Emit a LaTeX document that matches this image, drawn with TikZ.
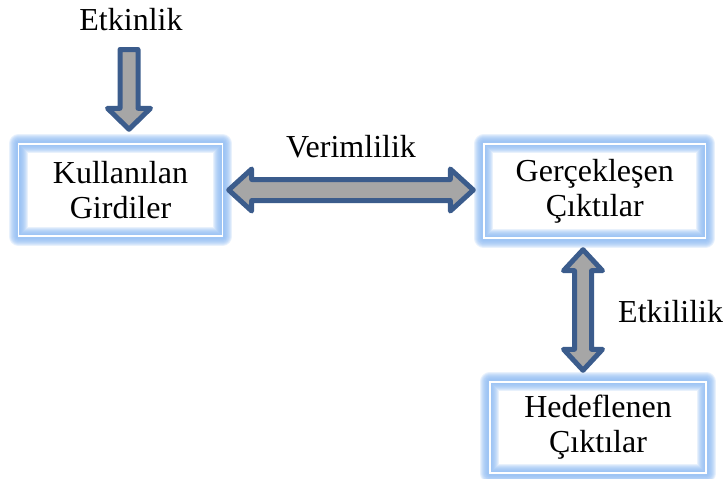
\documentclass[tikz,border=0pt]{standalone}
\usepackage{fontspec}
\setmainfont{Liberation Serif}
\usetikzlibrary{calc}
\definecolor{glowblue}{RGB}{140,185,242}
\definecolor{arrowedge}{RGB}{59,92,140}
\definecolor{arrowfill}{RGB}{166,166,166}
\tikzset{
  txt/.style={font=\fontsize{32}{35}\selectfont, inner sep=0pt, align=center},
  framebox/.style={txt, minimum width=#1},
  blockarrow/.style={draw=arrowedge, fill=arrowfill, line width=5pt, line join=round},
  glow/.style={draw=glowblue, line width=#1, draw opacity=0.2, line join=round}
}
\begin{document}
\begin{tikzpicture}[x=1pt, y=-1pt]
\useasboundingbox (0,0) rectangle (723,479);

% boxes
\node[framebox=204pt, minimum height=92pt] (k) at (120.5,190) {Kullanılan\\Girdiler};
\node[framebox=221.5pt, minimum height=94pt] (g) at (594.75,191) {Gerçekleşen\\Çıktılar};
\node[framebox=216pt, minimum height=91pt] (h) at (598,427.5) {Hedeflenen\\Çıktılar};

% soft glowing frames with a thin white line
\foreach \n in {k,g,h}{
  \foreach \w in {19,17,15,13,11,9,7,5}{
    \draw[glow=\w pt] (\n.north west) rectangle (\n.south east);
  }
  \draw[white, line width=1.5pt] (\n.north west) rectangle (\n.south east);
}

% labels
\node[txt, anchor=base] (e) at (131,30) {Etkinlik};
\node[txt, anchor=base] (v) at (351,157) {Verimlilik};
\node[txt, anchor=base west] (t) at (618,322) {Etkililik};
\coordinate (etop) at (129,49.5);

% Etkinlik -> Kullanılan Girdiler
\path[blockarrow] let \p1=(etop), \p2=($(k.north)+(8.5,-14.5)$) in
  (\x2-9pt,\y1) -- (\x2+9pt,\y1) -- (\x2+9pt,\y2+21pt) -- (\x2+21.5pt,\y2+21pt)
  -- (\x2,\y2) -- (\x2-21.5pt,\y2+21pt) -- (\x2-9pt,\y2+21pt) -- cycle;

% Kullanılan Girdiler <-> Gerçekleşen Çıktılar
\path[blockarrow] let \p1=($(k.east)+(6,0)$), \p2=($(g.west)+(-10.5,0)$) in
  (\x1,\y1) -- (\x1+23pt,\y1+21pt) -- (\x1+23pt,\y1+10.5pt) -- (\x2-23pt,\y1+10.5pt)
  -- (\x2-23pt,\y1+21pt) -- (\x2,\y1) -- (\x2-23pt,\y1-21pt) -- (\x2-23pt,\y1-10.5pt)
  -- (\x1+23pt,\y1-10.5pt) -- (\x1+23pt,\y1-21pt) -- cycle;

% Gerçekleşen Çıktılar <-> Hedeflenen Çıktılar
\path[blockarrow] let \p1=($(g.south)+(-11.75,11.5)$), \p2=($(h.north)+(-15,-11.5)$) in
  (\x1,\y1) -- (\x1+19.5pt,\y1-21pt) -- (\x1+8.5pt,\y1-21pt) -- (\x1+8.5pt,\y2+21pt)
  -- (\x1+19.5pt,\y2+21pt) -- (\x1,\y2) -- (\x1-19.5pt,\y2+21pt) -- (\x1-8.5pt,\y2+21pt)
  -- (\x1-8.5pt,\y1-21pt) -- (\x1-19.5pt,\y1-21pt) -- cycle;
\end{tikzpicture}
\end{document}
